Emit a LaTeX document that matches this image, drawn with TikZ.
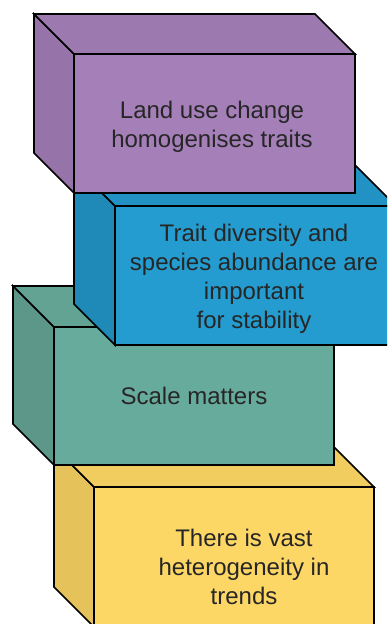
\documentclass[tikz,border=0pt]{standalone}
\usepackage{fontspec}
\setmainfont{Liberation Sans}
\definecolor{purple_front}{HTML}{A57FB8}
\definecolor{purple_top}{HTML}{9C79AE}
\definecolor{purple_side}{HTML}{9673A8}
\definecolor{blue_front}{HTML}{249CCF}
\definecolor{blue_top}{HTML}{2292C4}
\definecolor{blue_side}{HTML}{1F89B8}
\definecolor{teal_front}{HTML}{67AB9C}
\definecolor{teal_top}{HTML}{62A394}
\definecolor{teal_side}{HTML}{5C978A}
\definecolor{yellow_front}{HTML}{FCD765}
\definecolor{yellow_top}{HTML}{F1CC5F}
\definecolor{yellow_side}{HTML}{E5C25A}
\tikzset{
    face_line/.style = {
        draw=black,
        line width=0.8pt,
        line join=miter
    },
    box_text/.style = {
        align=center,
        font=\fontsize{12}{14.5}\selectfont,
        text=black!85
    },
}

\begin{document}
\begin{tikzpicture}[x=0.5pt, y=-0.5pt]
    \useasboundingbox (0,0) rectangle (387,624);
    \clip (0,0) rectangle (387,624);
    % bottom box
    \begin{scope}[shift={(94,487)}]
        \path[face_line, fill=yellow_side] (0,0) -- (-40,-40) -- (-40,100) -- (0,140) -- cycle;
        \path[face_line, fill=yellow_top] (0,0) -- (-40,-40) -- (240,-40) -- (280,0) -- cycle;
        \path[face_line, fill=yellow_front] (0,0) rectangle (280,140);
    \end{scope}
    \node[box_text] (trends) at (244,567) {There is vast\\heterogeneity in\\trends};
    % third box
    \begin{scope}[shift={(54,327)}]
        \path[face_line, fill=teal_side] (0,0) -- (-41,-41) -- (-41,97) -- (0,138) -- cycle;
        \path[face_line, fill=teal_top] (0,0) -- (-41,-41) -- (239,-41) -- (280,0) -- cycle;
        \path[face_line, fill=teal_front] (0,0) rectangle (280,138);
    \end{scope}
    \node[box_text] (scale) at (194,396) {Scale matters};
    % second box
    \begin{scope}[shift={(115,206)}]
        \path[face_line, fill=blue_side] (0,0) -- (-41,-41) -- (-41,98) -- (0,139) -- cycle;
        \path[face_line, fill=blue_top] (0,0) -- (-41,-41) -- (240,-41) -- (281,0) -- cycle;
        \path[face_line, fill=blue_front] (0,0) rectangle (281,139);
    \end{scope}
    \node[box_text] (stability) at (254,279) {Trait diversity and\\species abundance are\\important\\for stability};
    % top box
    \begin{scope}[shift={(74,54)}]
        \path[face_line, fill=purple_side] (0,0) -- (-40,-40) -- (-40,99) -- (0,139) -- cycle;
        \path[face_line, fill=purple_top] (0,0) -- (-40,-40) -- (241,-40) -- (281,0) -- cycle;
        \path[face_line, fill=purple_front] (0,0) rectangle (281,139);
    \end{scope}
    \node[box_text] (landuse) at (212,127) {Land use change\\homogenises traits};
\end{tikzpicture}
\end{document}
